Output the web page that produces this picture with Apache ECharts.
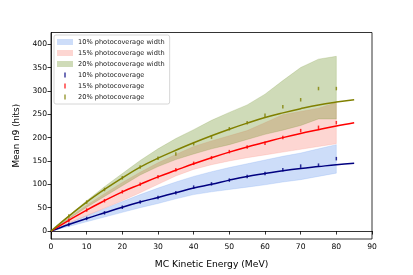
<!DOCTYPE html>
<html><head><meta charset="utf-8">
<script src="https://cdn.jsdelivr.net/npm/echarts@6/dist/echarts.min.js"></script>
<style>html,body{margin:0;padding:0;background:#fff}#c{width:413px;height:275px}</style>
</head><body><div id="c"></div>
<script>
const xTicks=[0,10,20,30,40,50,60,70,80,90];
const yTicks=[0,50,100,150,200,250,300,350,400];
const fitEnergy=[0,5,10,15,20,25,30,35,40,45,50,55,60,65,70,75,80,85];
const fit10=[0,14,27,39,51,62,72,82,92,100,109,117,123,129,134,138,142,145];
const fit15=[0,23,45,65,84,100,116,130,144,157,169,180,190,200,209,217,225,232];
const fit20=[0,32,62,89,114,137,156,173,189,204,218,231,243,253,262,270,276,281];
const bandEnergy=[0,5,10,15,20,25,30,35,40,45,50,55,60,65,70,75,80];
const low10=[0,10,20,30,40,50,59,69,78,84,89,94,99,105,110,117,124];
const high10=[0,17,33,48,63,78,92,105,117,127,136,144,152,160,167,176,185];
const low15=[0,17,33,49,65,82,100,118,132,142,150,157,163,169,175,181,187];
const high15=[0,28,55,80,104,126,146,164,181,193,204,215,232,249,256,263,275];
const low20=[0,26,51,74,97,120,138,153,165,176,185,196,207,216,226,240,240];
const high20=[0,33,65,95,123,151,176,198,217,237,254,270,293,322,350,368,374];
const pointEnergy=[5,10,15,20,25,30,35,40,45,50,55,60,65,70,75,80];
const pts10=[14,27,39,51,62,72,82,94,101,109,117,123,131,139,141,155];
const pts15=[23,45,65,84,100,116,131,145,157,170,180,188,200,215,222,232];
const pts20=[32,62,89,114,137,156,165,187,201,219,232,248,266,281,305,305];
const bandNames=['10% photocoverage width','15% photocoverage width','20% photocoverage width'];
const pointNames=['10% photocoverage','15% photocoverage','20% photocoverage'];

const FONT='DejaVu Sans';
const bandFill=['rgba(100,149,237,0.32)','rgba(250,128,114,0.32)','rgba(107,142,35,0.32)'];
const lineCol=['#000080','#ff0000','#808000'];
const lows=[low10,low15,low20], highs=[high10,high15,high20];
const fits=[fit10,fit15,fit20], pts=[pts10,pts15,pts20];

const series=[];
for(let i=0;i<3;i++){
  const data=bandEnergy.map((x,j)=>[x,lows[i][j],highs[i][j]]);
  series.push({type:'custom',name:bandNames[i],silent:true,z:1,
    itemStyle:{color:bandFill[i]},
    encode:{x:0,y:[1,2]},
    data:data,
    renderItem:function(params,api){
      if(params.dataIndex!==0) return null;
      const top=data.map(d=>api.coord([d[0],d[2]]));
      const bot=data.map(d=>api.coord([d[0],d[1]])).reverse();
      return {type:'polygon',shape:{points:top.concat(bot)},
        style:{fill:bandFill[i],stroke:bandFill[i],lineWidth:0.6}};
    }});
}
for(let i=0;i<3;i++){
  series.push({type:'line',name:'_fit'+i,symbol:'none',smooth:0.4,
    lineStyle:{width:1.5,color:lineCol[i]},
    data:fitEnergy.map((x,j)=>[x,fits[i][j]]),z:3});
}
for(let i=0;i<3;i++){
  series.push({type:'scatter',name:pointNames[i],symbol:'rect',symbolSize:[1.5,3.5],
    itemStyle:{color:lineCol[i]},
    data:pointEnergy.map((x,j)=>[x,pts[i][j]]),z:4});
}
const barIcon='path://M0,0L0.01,0L0,0.01Z M16,6L15.99,6L16,5.99Z M7.3,0.5h1.4v5h-1.4z';
const legendData=[
  ...bandNames.map((n,i)=>({name:n,icon:'rect',itemStyle:{color:bandFill[i]}})),
  ...pointNames.map((n,i)=>({name:n,icon:barIcon,itemStyle:{color:lineCol[i]}}))
];

const chart=echarts.init(document.getElementById('c'),null,{renderer:'canvas'});
chart.setOption({
  animation:false,
  backgroundColor:'#fff',
  textStyle:{fontFamily:FONT},
  grid:{left:51,right:41,top:32.5,bottom:36,show:true,borderColor:'#000',borderWidth:0.8,backgroundColor:'transparent'},
  legend:{orient:'vertical',left:54,top:35,padding:[3,5,3,3],itemWidth:16,itemHeight:6,itemGap:3,
    backgroundColor:'#fff',borderColor:'#cccccc',borderWidth:0.8,borderRadius:2,
    textStyle:{fontFamily:FONT,fontSize:6.6,color:'#222',lineHeight:8},
    data:legendData,selectedMode:false},
  xAxis:{type:'value',min:xTicks[0],max:xTicks[xTicks.length-1],interval:10,
    name:'MC Kinetic Energy (MeV)',nameLocation:'middle',nameGap:21,
    nameTextStyle:{fontFamily:FONT,fontSize:9.2,color:'#000'},
    axisLine:{show:true,lineStyle:{color:'#000',width:0.8}},
    axisTick:{show:true,inside:false,length:3.5,lineStyle:{color:'#000',width:0.8}},
    axisLabel:{fontFamily:FONT,fontSize:7.6,color:'#000',margin:4},
    splitLine:{show:false}},
  yAxis:{type:'value',min:-17,max:425,
    name:'Mean n9 (hits)',nameLocation:'middle',nameGap:29,nameRotate:90,
    nameTextStyle:{fontFamily:FONT,fontSize:8.8,color:'#000'},
    axisLine:{show:true,lineStyle:{color:'#000',width:0.8}},
    axisTick:{show:true,inside:false,length:3.5,lineStyle:{color:'#000',width:0.8},customValues:yTicks},
    axisLabel:{fontFamily:FONT,fontSize:7.6,color:'#000',margin:4,customValues:yTicks},
    splitLine:{show:false}},
  series:series
});
</script></body></html>
